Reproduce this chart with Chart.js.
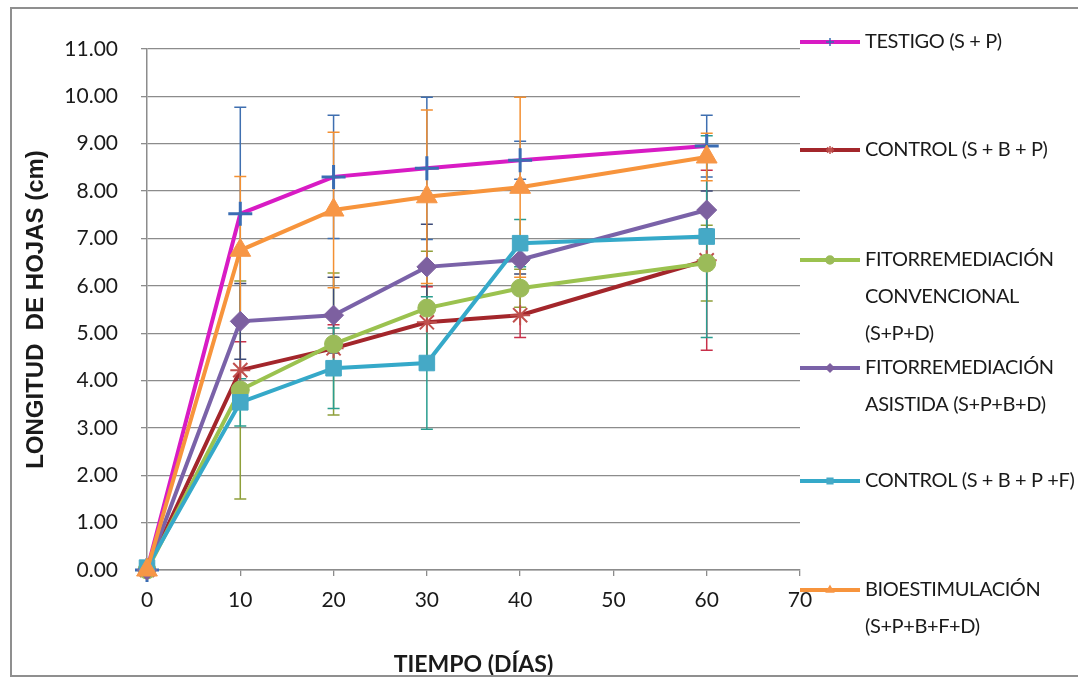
<!DOCTYPE html>
<html>
<head>
<meta charset="utf-8">
<script src="https://cdn.jsdelivr.net/npm/chart.js@4"></script>
<style>
  html, body { margin: 0; padding: 0; background: #fff; }
  #wrap { position: relative; width: 1078px; height: 683px; overflow: hidden; }
  #frame { position: absolute; left: 10px; top: 7px; width: 1080px; height: 670px; border: 2px solid #8f8f8f; box-sizing: border-box; pointer-events: none; }
  canvas { position: absolute; left: 0; top: 0; }
</style>
</head>
<body>
<div id="wrap">
  <canvas id="chart" width="1078" height="683"></canvas>
  <div id="frame"></div>
</div>
<script>
// dias de medicion
const days = [0, 10, 20, 30, 40, 60];

const seriesNames = [
  'TESTIGO (S + P)',
  'CONTROL (S + B + P)',
  'FITORREMEDIACIÓN CONVENCIONAL (S+P+D)',
  'FITORREMEDIACIÓN ASISTIDA (S+P+B+D)',
  'CONTROL (S + B + P +F)',
  'BIOESTIMULACIÓN (S+P+B+F+D)'
];
// como aparecen partidas en la leyenda
const legendLabels = [
  ['TESTIGO (S + P)'],
  ['CONTROL (S + B + P)'],
  ['FITORREMEDIACIÓN', 'CONVENCIONAL', '(S+P+D)'],
  ['FITORREMEDIACIÓN', 'ASISTIDA (S+P+B+D)'],
  ['CONTROL (S + B + P +F)'],
  ['BIOESTIMULACIÓN', '(S+P+B+F+D)']
];

// longitud de hojas (cm)
const testigo     = [0, 7.52, 8.30, 8.48, 8.65, 8.95];
const controlSBP  = [0, 4.22, 4.68, 5.23, 5.38, 6.54];
const fitoConv    = [0, 3.80, 4.77, 5.53, 5.95, 6.48];
const fitoAsist   = [0, 5.25, 5.38, 6.40, 6.55, 7.60];
const controlSBPF = [0.05, 3.54, 4.26, 4.37, 6.90, 7.04];
const bioestim    = [0, 6.75, 7.60, 7.88, 8.08, 8.72];

// desviacion (barras de error)
const errTestigo     = [0, 2.25, 1.30, 1.50, 0.40, 0.65];
const errControlSBP  = [0, 0.60, 0.50, 0.75, 0.47, 1.90];
const errFitoConv    = [0, 2.30, 1.50, 1.20, 0.40, 0.80];
const errFitoAsist   = [0, 0.80, 0.80, 0.90, 0.30, 0.40];
const errControlSBPF = [0, 0.50, 0.85, 1.40, 0.50, 2.13];
const errBioestim    = [0, 1.56, 1.64, 1.83, 1.90, 0.50];

const yTicks = [0, 1, 2, 3, 4, 5, 6, 7, 8, 9, 10, 11];

const toPoints = vals => days.map((d, i) => ({ x: d, y: vals[i] }));

const makeSeries = (i, vals, errs, line, marker, style, radius, errColor, pbw) => ({
  label: seriesNames[i],
  data: toPoints(vals),
  errors: errs,
  errorColor: errColor,
  borderColor: line,
  borderWidth: 4,
  pointStyle: style,
  pointRadius: radius,
  pointBackgroundColor: marker,
  pointBorderColor: marker,
  pointBorderWidth: pbw,
  tension: 0,
  clip: false,
  order: 6 - i
});

// barras de error dibujadas antes de las lineas
const errorBars = {
  id: 'errorBars',
  beforeDatasetsDraw(chart) {
    const ctx = chart.ctx;
    const xs = chart.scales.x, ys = chart.scales.y;
    ctx.save();
    chart.data.datasets.forEach(ds => {
      ctx.strokeStyle = ds.errorColor;
      ctx.lineWidth = 1.5;
      ds.data.forEach((p, j) => {
        const e = ds.errors[j];
        if (!e) return;
        const x = xs.getPixelForValue(p.x);
        const yt = ys.getPixelForValue(p.y + e);
        const yb = ys.getPixelForValue(Math.max(0, p.y - e));
        ctx.beginPath();
        ctx.moveTo(x, yt); ctx.lineTo(x, yb);
        ctx.moveTo(x - 6, yt); ctx.lineTo(x + 6, yt);
        if (p.y - e > 0) { ctx.moveTo(x - 6, yb); ctx.lineTo(x + 6, yb); }
        ctx.stroke();
      });
    });
    ctx.restore();
  }
};

// leyenda a la derecha, como en Excel
const sideLegend = {
  id: 'sideLegend',
  afterDraw(chart, args, opts) {
    const ctx = chart.ctx;
    ctx.save();
    ctx.textBaseline = 'middle';
    ctx.font = opts.font;
    if ('letterSpacing' in ctx) ctx.letterSpacing = opts.spacing;
    chart.data.datasets.forEach((ds, i) => {
      const y = opts.rows[i];
      ctx.strokeStyle = ds.borderColor;
      ctx.lineWidth = 4;
      ctx.beginPath();
      ctx.moveTo(opts.x0, y); ctx.lineTo(opts.x1, y);
      ctx.stroke();
      if (Chart.helpers && Chart.helpers.drawPoint) {
        ctx.fillStyle = ds.pointBackgroundColor;
        ctx.strokeStyle = ds.pointBorderColor;
        ctx.lineWidth = 1.5;
        Chart.helpers.drawPoint(ctx, { pointStyle: ds.pointStyle, radius: 4, borderWidth: 1.5, rotation: 0 }, (opts.x0 + opts.x1) / 2, y);
      }
      ctx.fillStyle = '#1a1a1a';
      legendLabels[i].forEach((t, k) => ctx.fillText(t, opts.textX, y + k * opts.lineGap));
    });
    ctx.restore();
  }
};

new Chart(document.getElementById('chart'), {
  type: 'line',
  data: {
    datasets: [
      makeSeries(0, testigo, errTestigo, '#d81bc4', '#3a6db3', 'cross', 12, '#3f6fb0', 3),
      makeSeries(1, controlSBP, errControlSBP, '#a3262b', '#c0504d', 'star', 10, '#c8304a', 2),
      makeSeries(2, fitoConv, errFitoConv, '#9bc24f', '#9bbb59', 'circle', 9, '#8f9f3a', 1),
      makeSeries(3, fitoAsist, errFitoAsist, '#7a62a8', '#7d60a0', 'rectRot', 10, '#3c4a78', 1),
      makeSeries(4, controlSBPF, errControlSBPF, '#35a9c9', '#45a9c6', 'rect', 11, '#2a9d8f', 1),
      makeSeries(5, bioestim, errBioestim, '#f7943c', '#f79646', 'triangle', 12, '#f39032', 1)
    ]
  },
  options: {
    responsive: false,
    animation: false,
    devicePixelRatio: 1,
    layout: { padding: { left: 10, right: 278, top: 49, bottom: 5 } },
    plugins: {
      legend: { display: false },
      tooltip: { enabled: false },
      sideLegend: {
        font: '20px Lato, "Liberation Sans", sans-serif',
        spacing: '-0.4px',
        rows: [42, 150, 260, 368, 481, 590],
        lineGap: 37,
        x0: 800, x1: 860, textX: 865
      }
    },
    scales: {
      x: {
        type: 'linear',
        min: 0, max: 70,
        afterFit: s => { s.height = 108; },
        ticks: { stepSize: 10, padding: 12, color: '#1a1a1a', font: { family: 'Lato', size: 21 } },
        grid: { drawOnChartArea: false, drawTicks: true, tickLength: 6, color: '#8c8c8c', lineWidth: 1.3 },
        border: { display: true, color: '#8c8c8c', width: 1.5 },
        title: { display: true, text: 'TIEMPO (DÍAS)', color: '#1a1a1a', padding: 0, font: { family: 'Lato', size: 23, weight: 'bold' } }
      },
      y: {
        min: 0, max: 11,
        afterFit: s => { s.width = 137; },
        afterBuildTicks: s => { s.ticks = yTicks.map(v => ({ value: v })); },
        ticks: { padding: 23, color: '#1a1a1a', font: { family: 'Lato', size: 21 }, callback: v => Number(v).toFixed(2) },
        grid: { color: '#8c8c8c', lineWidth: 1.3, tickLength: 6 },
        border: { display: true, color: '#8c8c8c', width: 1.5 },
        title: { display: true, text: 'LONGITUD  DE HOJAS (cm)', color: '#1a1a1a', padding: { top: 12, bottom: 0 }, font: { family: '"Liberation Sans", Arial, sans-serif', size: 24, weight: 'bold' } }
      }
    }
  },
  plugins: [errorBars, sideLegend]
});
</script>
</body>
</html>
